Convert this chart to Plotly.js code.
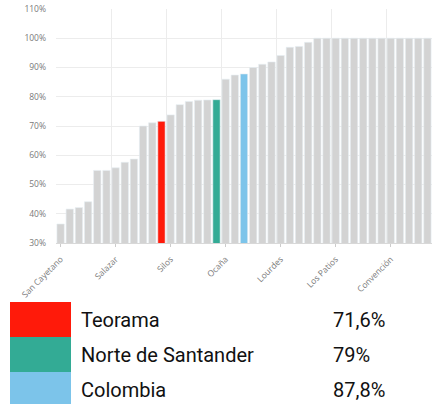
<!DOCTYPE html>
<html>
<head>
<meta charset="utf-8">
<script src="https://cdn.plot.ly/plotly-3.0.1.min.js"></script>
<style>
  html, body { margin: 0; padding: 0; background: #ffffff; overflow: hidden; }
  #chart { width: 432px; height: 404px; }
</style>
</head>
<body>
<div id="chart"></div>
<script>
// Values (%), sorted ascending
const values = [36.5, 41.6, 42.1, 44.1, 54.8, 54.8, 55.7, 57.6, 58.7, 70.0,
                71.1, 71.6, 73.8, 77.3, 78.4, 78.8, 78.9, 79.0, 86.0, 87.4,
                87.8, 90.0, 91.1, 91.9, 94.1, 96.9, 97.2, 98.6, 100, 100,
                100, 100, 100, 100, 100, 100, 100, 100, 100, 100, 100];
// Labelled positions on the x axis
const tickIndex = [0, 6, 12, 18, 24, 30, 36];
const tickLabels = ["San Cayetano", "Salazar", "Silos", "Ocaña", "Lourdes", "Los Patios", "Convención"];
// Y axis ticks
const yTicks = [30, 40, 50, 60, 70, 80, 90, 100, 110];
const yTickLabels = ["30%", "40%", "50%", "60%", "70%", "80%", "90%", "100%", "110%"];
// Highlighted bars
const highlightNames = ["Teorama", "Norte de Santander", "Colombia"];
const highlightIndex = [11, 17, 20];
const highlightValues = ["71,6%", "79%", "87,8%"];
const highlightColors = ["#ff1a0a", "#33ab95", "#7cc4ea"];
const baseColor = "#d3d3d3";

const xs = values.map((v, i) => i);
const colors = values.map((v, i) => {
  const k = highlightIndex.indexOf(i);
  return k >= 0 ? highlightColors[k] : baseColor;
});
const boundaries = [];
for (let b = -0.5; b <= values.length; b += 6) boundaries.push(b);

const trace = {
  type: "bar",
  x: xs,
  y: values,
  marker: { color: colors, line: { color: "#e6eef4", width: 0.6 } },
  hoverinfo: "y",
  showlegend: false
};

// plot area in pixels: x 56..432, y 9..243
const PL = 56, PW = 376, PB = 243, PH = 234;
const px = (x) => (x - PL) / PW;
const py = (y) => (PB - y) / PH;

const annotations = [];
const shapes = [];
const rowTopPx = [302, 337, 372];
const rowHPx = 35;
highlightNames.forEach((name, i) => {
  const t = rowTopPx[i], b = t + rowHPx;
  shapes.push({
    type: "rect", xref: "paper", yref: "paper",
    x0: px(10), x1: px(71), y0: py(b), y1: py(t),
    fillcolor: highlightColors[i], line: { width: 0 }, layer: "above"
  });
  annotations.push({
    xref: "paper", yref: "paper", x: px(79), y: py(t + rowHPx / 2),
    xanchor: "left", yanchor: "middle", showarrow: false,
    text: name, font: { family: "Roboto, sans-serif", size: 20, color: "#111111" }
  });
  annotations.push({
    xref: "paper", yref: "paper", x: px(331), y: py(t + rowHPx / 2),
    xanchor: "left", yanchor: "middle", showarrow: false,
    text: highlightValues[i], font: { family: "Roboto, sans-serif", size: 20, color: "#111111" }
  });
});

const layout = {
  width: 432, height: 404,
  margin: { l: 56, r: 0, t: 9, b: 161, pad: 0 },
  paper_bgcolor: "#ffffff",
  plot_bgcolor: "#ffffff",
  bargap: 0.2,
  xaxis: {
    type: "linear",
    range: [-0.5, values.length - 0.5],
    tickmode: "array",
    tickvals: tickIndex,
    ticktext: tickLabels,
    tickangle: -45,
    ticks: "outside", ticklen: 3, tickcolor: "#cccccc", tickwidth: 1,
    ticklabelstandoff: 4,
    tickfont: { family: "Open Sans, sans-serif", size: 8.5, color: "#7a7a7a" },
    showgrid: false,
    showline: true, linecolor: "#d8d8d8", linewidth: 1,
    zeroline: false,
    minor: { tickmode: "array", tickvals: boundaries, showgrid: true, gridcolor: "#ececec", gridwidth: 1, ticks: "" },
    fixedrange: true
  },
  yaxis: {
    range: [30, 110],
    tickmode: "array",
    tickvals: yTicks,
    ticktext: yTickLabels,
    tickfont: { family: "Open Sans, sans-serif", size: 8.5, color: "#7a7a7a" },
    showgrid: true, gridcolor: "#ececec", gridwidth: 1,
    zeroline: false,
    ticks: "", ticklabelstandoff: 9,
    fixedrange: true
  },
  shapes: shapes,
  annotations: annotations
};

Plotly.newPlot("chart", [trace], layout, { displayModeBar: false, staticPlot: true });
</script>
</body>
</html>
